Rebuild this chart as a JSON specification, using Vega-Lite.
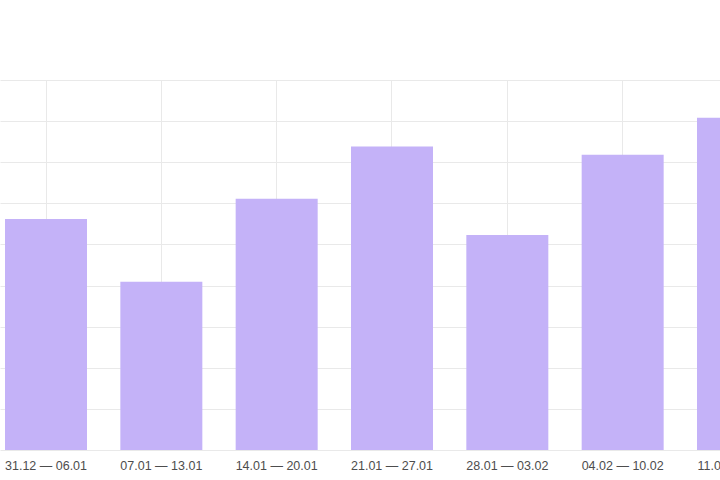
{
  "$schema": "https://vega.github.io/schema/vega-lite/v6.json",
  "width": 720,
  "height": 370,
  "autosize": {"type": "none"},
  "padding": {"top": 80, "left": 0, "right": 0, "bottom": 30},
  "background": "#ffffff",
  "config": {"view": {"stroke": null}},
  "data": {
    "values": [
      {"week": "31.12 — 06.01", "value": 56.2},
      {"week": "07.01 — 13.01", "value": 40.9},
      {"week": "14.01 — 20.01", "value": 61.1},
      {"week": "21.01 — 27.01", "value": 73.8},
      {"week": "28.01 — 03.02", "value": 52.3},
      {"week": "04.02 — 10.02", "value": 71.8},
      {"week": "11.02 — 17.02", "value": 80.8}
    ]
  },
  "mark": {"type": "bar", "color": "#c4b2f8"},
  "encoding": {
    "x": {
      "field": "week",
      "type": "nominal",
      "sort": null,
      "scale": {"range": [0, 784], "paddingInner": 0.289, "paddingOuter": 0.0434},
      "axis": {
        "title": null,
        "grid": true,
        "gridColor": "#e9e9e9",
        "gridWidth": 1,
        "ticks": false,
        "domain": false,
        "labelAngle": 0,
        "labelPadding": 9,
        "labelFont": "Liberation Sans",
        "labelFontSize": 12.5,
        "labelColor": "#4d4d4d"
      }
    },
    "y": {
      "field": "value",
      "type": "quantitative",
      "scale": {"domain": [0, 90], "nice": false},
      "axis": {
        "title": null,
        "values": [0, 10, 20, 30, 40, 50, 60, 70, 80, 90],
        "labels": false,
        "ticks": false,
        "domain": false,
        "grid": true,
        "gridColor": "#e9e9e9",
        "gridWidth": 1
      }
    }
  }
}
